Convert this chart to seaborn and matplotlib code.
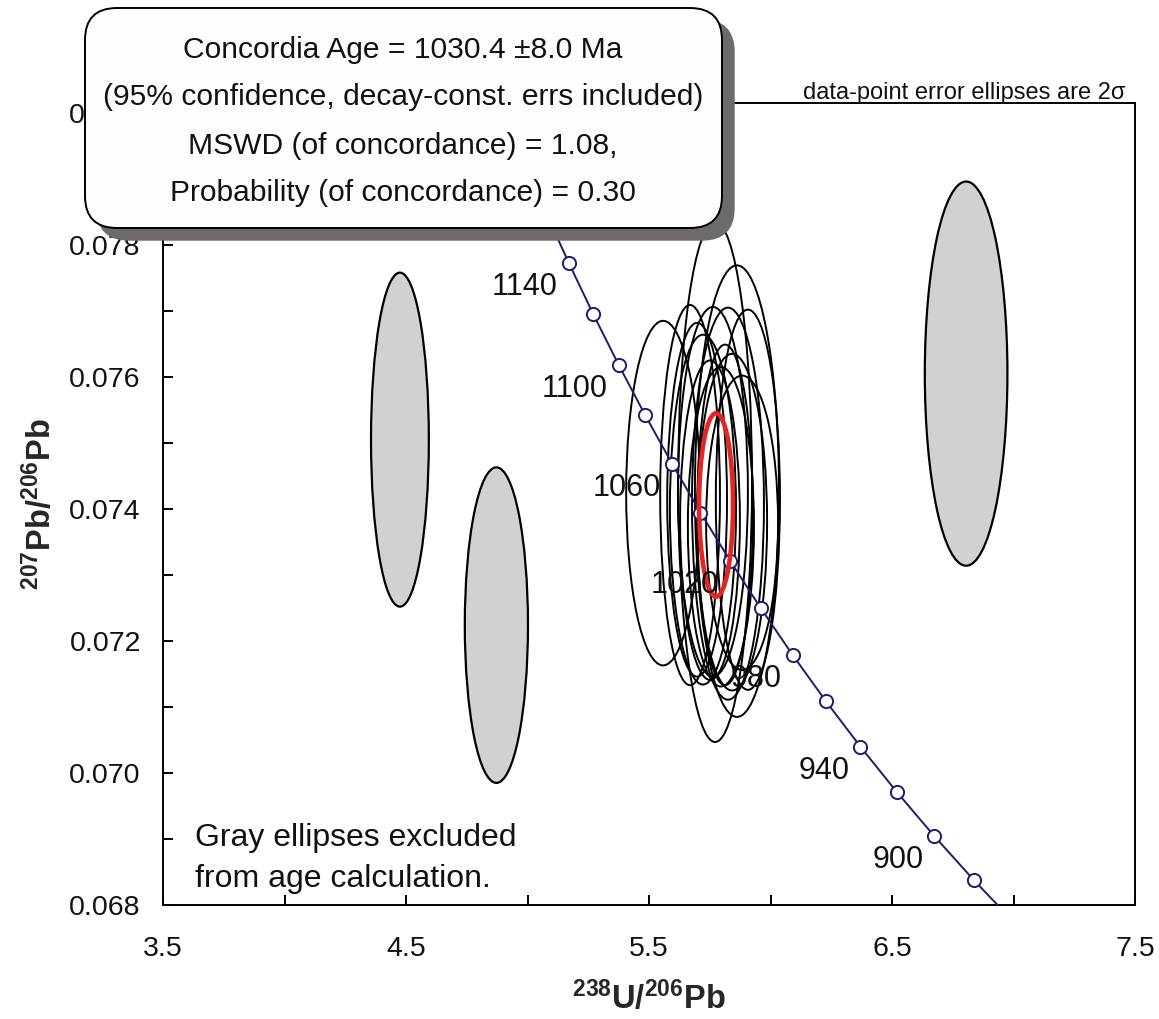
import numpy as np
import pandas as pd
import matplotlib
matplotlib.use("Agg")
import matplotlib.pyplot as plt
import matplotlib.transforms as mtransforms
from matplotlib.patches import Ellipse, FancyBboxPatch
import seaborn as sns

# decay constants (1/yr) and 238U/235U
lam238 = 1.55125e-10
lam235 = 9.8485e-10
u_ratio = 137.88

# concordia tick marks every 20 Ma, labelled every 40 Ma
tick_ages = [860, 880, 900, 920, 940, 960, 980, 1000, 1020, 1040, 1060,
             1080, 1100, 1120, 1140, 1160, 1180, 1200]
label_ages = [900, 940, 980, 1020, 1060, 1100, 1140]

# analyses used in the age (centre, 2-sigma half axes)
used_x = [5.558, 5.772, 5.862, 5.763, 5.825, 5.722, 5.842, 5.796, 5.883,
          5.698, 5.751, 5.669, 5.813, 5.907]
used_y = [0.07424, 0.07441, 0.07427, 0.07426, 0.07408, 0.07399, 0.07380,
          0.07373, 0.07379, 0.07414, 0.07383, 0.07421, 0.07391, 0.07414]
used_sx = [0.152, 0.152, 0.173, 0.144, 0.148, 0.136, 0.144, 0.136, 0.148,
           0.123, 0.123, 0.123, 0.115, 0.132]
used_sy = [0.00261, 0.00394, 0.00342, 0.00280, 0.00297, 0.00265, 0.00255,
           0.00242, 0.00223, 0.00268, 0.00242, 0.00288, 0.00258, 0.00288]

# analyses excluded from the age (gray)
excl_x = [4.475, 4.872, 6.805]
excl_y = [0.07505, 0.07224, 0.07605]
excl_sx = [0.119, 0.130, 0.170]
excl_sy = [0.00253, 0.00239, 0.00291]

# concordia age ellipse
age_x, age_y, age_sx, age_sy = 5.776, 0.07406, 0.070, 0.00139

box_lines = ["Concordia Age = 1030.4 \u00b18.0 Ma",
             "(95% confidence, decay-const. errs included)",
             "MSWD (of concordance) = 1.08,",
             "Probability (of concordance) = 0.30"]
note_lines = ["Gray ellipses excluded", "from age calculation."]

# concordia points at the tick ages
t = np.array(tick_ages) * 1e6
conc = pd.DataFrame({
    "age": tick_ages,
    "x": 1.0 / (np.exp(lam238 * t) - 1.0),
    "y": (np.exp(lam235 * t) - 1.0) / (np.exp(lam238 * t) - 1.0) / u_ratio,
})

sns.set_theme(style="ticks")
plt.rcParams["font.family"] = ["Liberation Sans", "DejaVu Sans"]
plt.rcParams["mathtext.fontset"] = "custom"
plt.rcParams["mathtext.rm"] = "Liberation Sans:bold"
plt.rcParams["mathtext.default"] = "rm"

W, H = 1159, 1019
fig = plt.figure(figsize=(W / 100, H / 100), dpi=100, facecolor="white")
ax = fig.add_axes([163 / W, (H - 905) / H, (1135 - 163) / W, (905 - 103) / H])
ax.set_facecolor("white")

navy = "#1d1d6e"

for x, y, sx, sy in zip(excl_x, excl_y, excl_sx, excl_sy):
    ax.add_patch(Ellipse((x, y), 2 * sx, 2 * sy, facecolor="#d1d1d3",
                         edgecolor="black", lw=1.6, zorder=2))
for x, y, sx, sy in zip(used_x, used_y, used_sx, used_sy):
    ax.add_patch(Ellipse((x, y), 2 * sx, 2 * sy, facecolor="none",
                         edgecolor="black", lw=1.4, zorder=2))

sns.lineplot(data=conc, x="x", y="y", sort=False, color=navy, lw=1.4,
             ax=ax, zorder=3)
sns.scatterplot(data=conc, x="x", y="y", s=90, facecolor="white",
                edgecolor=navy, linewidth=1.4, ax=ax, zorder=4)

ax.add_patch(Ellipse((age_x, age_y), 2 * age_sx, 2 * age_sy, facecolor="none",
                     edgecolor="#e52521", lw=3.3, zorder=5))

lab = conc[conc["age"].isin(label_ages)]
for _, r in lab.iterrows():
    ax.annotate(str(int(r["age"])), (r["x"], r["y"]), xytext=(-11, -24),
                textcoords="offset pixels", ha="right", va="center",
                fontsize=22, color="#111111", zorder=6)

ax.set_xlim(3.5, 7.5)
ax.set_ylim(0.068, 0.08015)
ax.set_xticks([3.5, 4.5, 5.5, 6.5, 7.5])
ax.set_xticks([4.0, 5.0, 6.0, 7.0], minor=True)
ax.set_yticks(np.arange(0.068, 0.0805, 0.002))
ax.set_yticks(np.arange(0.069, 0.080, 0.002), minor=True)
ax.set_xticklabels(["3.5", "4.5", "5.5", "6.5", "7.5"])
ax.set_yticklabels([f"{v:.3f}" for v in np.arange(0.068, 0.0805, 0.002)])
ax.tick_params(which="both", direction="in", length=7, width=1.4,
               colors="black", labelsize=20.5, labelcolor="#111111")
ax.tick_params(axis="x", which="both", pad=22, top=False)
ax.tick_params(axis="y", which="both", pad=16, right=False)
for sp in ax.spines.values():
    sp.set_linewidth(1.4)
    sp.set_color("black")

ax.set_xlabel("$^{238}$U/$^{206}$Pb", fontsize=23.5, fontweight="bold")
ax.set_ylabel("$^{207}$Pb/$^{206}$Pb", fontsize=23.5, fontweight="bold")
ax.xaxis.set_label_coords(0.5, -0.094)
ax.yaxis.set_label_coords(-0.108, 0.5)

ax.annotate("data-point error ellipses are 2\u03c3", (0.99, 1.0),
            xycoords="axes fraction", xytext=(0, 4), textcoords="offset pixels",
            ha="right", va="baseline", fontsize=17, color="#111111")

for i, line in enumerate(note_lines):
    ax.annotate(line, (0, 0), xycoords="axes fraction",
                xytext=(32, 905 - 846 - i * 41), textcoords="offset pixels",
                ha="left", va="baseline", fontsize=23, color="#111111")

# results box in pixel coordinates (origin top-left)
px = mtransforms.Affine2D().scale(1 / W, -1 / H).translate(0, 1) + fig.transFigure
shadow = FancyBboxPatch((97, 20), 637, 220, boxstyle="round,pad=0,rounding_size=32",
                        facecolor="#6e6a6a", edgecolor="#6e6a6a", lw=1,
                        transform=px, zorder=8)
box = FancyBboxPatch((85, 8), 637, 220, boxstyle="round,pad=0,rounding_size=32",
                     facecolor="#fdfdfb", edgecolor="black", lw=1.4,
                     transform=px, zorder=9)
fig.add_artist(shadow)
fig.add_artist(box)
for line, yy in zip(box_lines, [50, 97, 146, 193]):
    fig.text(403, yy, line, transform=px, ha="center", va="center",
             fontsize=21.6, color="#111111", zorder=10)

fig.savefig("out.png", dpi=100, facecolor="white")
